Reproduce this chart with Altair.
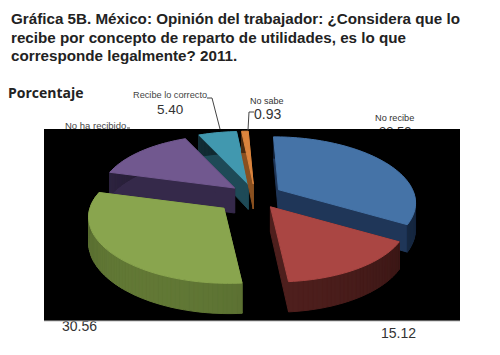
import math
import altair as alt

TITLE_LINES = ["Gráfica 5B. México: Opinión del trabajador: ¿Considera que lo",
               "recibe por concepto de reparto de utilidades, es lo que",
               "corresponde legalmente? 2011."]
CATEGORIES = ["No recibe", "", "", "No ha recibido", "Recibe lo correcto", "No sabe"]
VALUES = [33.59, 15.12, 30.56, 14.40, 5.40, 0.93]
TOP_COLORS = ["#4573A7", "#AA4643", "#89A54E", "#71588F", "#4198AF", "#DB843D"]
WALL_COLORS = ["#1F3658", "#4E1F1D", "#5B7032", "#35294A", "#1E4A57", "#8A5020"]
EXPLODE = [0.21, 0.20, 0.30, 0.20, 0.20, 0.20]
DRAW_ORDER = [4, 5, 3, 0, 1, 2]

CX, CY, B, A, K, SKEW, DEPTH = 255, 196, 134, 62, 0.174, 5, 25


def project(theta, r=1.0):
    s, f = math.sin(theta) * r, -math.cos(theta) * r
    d = 1 - K * f
    return B * s / d + SKEW * f, A * f / d, DEPTH / d


features = []


def add(points, fill):
    ring = [[round(x - 8, 2), round(y - 8, 2)] for x, y in points]
    ring.append(ring[0])
    features.append({"type": "Feature", "properties": {"fill": fill},
                     "geometry": {"type": "Polygon", "coordinates": [ring]}})


starts = [0.0]
for v in VALUES:
    starts.append(starts[-1] + v)
total = starts[-1]

for i in DRAW_ORDER:
    a0 = starts[i] / total * 2 * math.pi
    a1 = starts[i + 1] / total * 2 * math.pi
    mid = (a0 + a1) / 2
    ox, oy, _ = project(mid, EXPLODE[i])
    ax, ay = CX + ox, CY + oy
    n = max(3, int((a1 - a0) / 0.03))
    rim = []
    for j in range(n + 1):
        t = a0 + (a1 - a0) * j / n
        dx, dy, dep = project(t)
        rim.append((ax + dx, ay + dy, dep))
    top = [(ax, ay)] + [(x, y) for x, y, _ in rim]
    dep0 = DEPTH
    low = [(ax, ay + dep0)] + [(x, y + d) for x, y, d in rim]
    # radial walls
    add([top[0], top[1], low[1], low[0]], WALL_COLORS[i])
    add([top[0], top[-1], low[-1], low[0]], WALL_COLORS[i])
    # rim wall, shaded by segment
    for j in range(1, len(top) - 1):
        t = a0 + (a1 - a0) * j / n
        shade = 0.78 + 0.30 * math.cos(t - math.radians(215))
        base = WALL_COLORS[i].lstrip("#")
        rgb = [min(255, int(int(base[k:k + 2], 16) * shade)) for k in (0, 2, 4)]
        add([top[j], top[j + 1], low[j + 1], low[j]], "#%02x%02x%02x" % tuple(rgb))
    add(top, TOP_COLORS[i])

W, H = 484, 339
FONT = "Liberation Sans"


def text(s, x, y, size, color="#333333", bold=False, font=FONT, align="left"):
    return alt.Chart(alt.Data(values=[{"t": s}])).mark_text(
        align=align, baseline="alphabetic", font=font, fontSize=size,
        fontWeight="bold" if bold else "normal", color=color,
    ).encode(text="t:N", x=alt.value(x - 8), y=alt.value(y - 8))


def poly(xs, ys):
    rows = [{"x": a - 8, "y": b - 8, "o": k} for k, (a, b) in enumerate(zip(xs, ys))]
    return alt.Chart(alt.Data(values=rows)).mark_line(color="#444444", strokeWidth=1).encode(
        x=alt.X("x:Q", scale=alt.Scale(domain=[0, W], range=[0, W]), axis=None),
        y=alt.Y("y:Q", scale=alt.Scale(domain=[0, H], range=[0, H]), axis=None),
        order="o:Q")


under = [
    text(CATEGORIES[3], 65, 129, 9.5, "#444444"),
    text("33.59", 379, 136, 13, "#333333"),
    text(CATEGORIES[0], 375, 121, 9.2, "#333333"),
    text("30.56", 62, 331, 14, "#333333"),
    poly([127, 130], [128, 128]),
]
box = alt.Chart(alt.Data(values=[{"a": 1}])).mark_rect(color="#000000").encode(
    x=alt.value(44 - 8), x2=alt.value(460 - 8), y=alt.value(129 - 8), y2=alt.value(321 - 8))
edge = alt.Chart(alt.Data(values=[{"a": 1}])).mark_rule(color="#bbbbbb", strokeWidth=1).encode(
    x=alt.value(44 - 8), x2=alt.value(460 - 8), y=alt.value(321 - 8))

pie = alt.Chart(alt.InlineData(values={"type": "FeatureCollection", "features": features},
                               format=alt.DataFormat(type="json", property="features"))
                ).mark_geoshape(strokeWidth=1).encode(
    fill=alt.Fill("properties.fill:N", scale=None),
    stroke=alt.Stroke("properties.fill:N", scale=None),
).project(type="identity", scale=1, translate=[0, 0])

over = [
    text(TITLE_LINES[0], 11, 24, 15.2, "#222222", True),
    text(TITLE_LINES[1], 11, 43, 15.2, "#222222", True),
    text(TITLE_LINES[2], 11, 61, 15.2, "#222222", True),
    text("Porcentaje", 8, 98, 14, "#222222", True, "Open Sans"),
    text(CATEGORIES[4], 133, 98, 9.2, "#444444"),
    text("5.40", 157, 114, 13.5, "#333333"),
    text(CATEGORIES[5], 250, 104, 9, "#333333"),
    text("0.93", 254, 119, 14, "#333333"),
    text("15.12", 381, 338, 14, "#333333"),
]
# leader lines
leaders = [poly([207, 212, 220], [98, 98, 129]), poly([254, 249, 248], [112, 112, 130])]

chart = alt.layer(*under, box, edge, pie, *leaders, *over).resolve_scale(
    x="independent", y="independent"
).properties(width=W, height=H, padding=0).configure_view(stroke=None)

chart.save("out.html", embed_options={"renderer": "svg", "actions": False})
